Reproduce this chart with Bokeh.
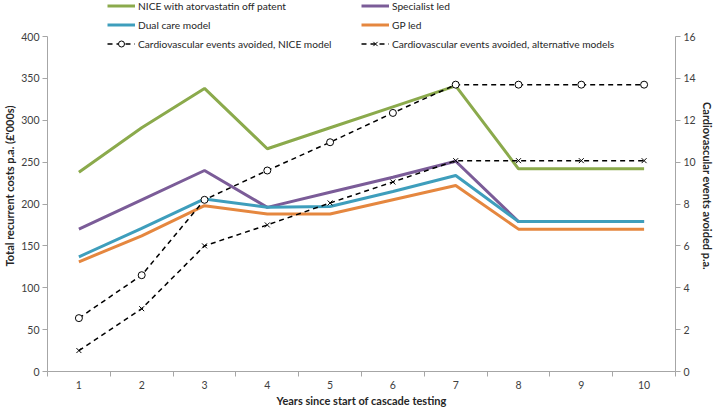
from bokeh.plotting import figure
from bokeh.models import (Range1d, LinearAxis, FixedTicker, Legend, LegendItem)
from bokeh.embed import file_html
from bokeh.resources import INLINE

# ---- data ----
years = [1, 2, 3, 4, 5, 6, 7, 8, 9, 10]
nice_costs = [238, 291, 338, 266, 291, 316, 341, 242, 242, 242]
specialist_costs = [170, 205, 240, 196, 214, 232, 251, 179, 179, 179]
dual_costs = [137, 171, 206, 196, 197, 215, 234, 179, 179, 179]
gp_costs = [131, 162, 198, 188, 188, 205, 222, 170, 170, 170]
events_nice = [2.55, 4.6, 8.2, 9.6, 10.95, 12.35, 13.7, 13.7, 13.7, 13.7]
events_alt = [1.0, 3.0, 6.0, 7.0, 8.05, 9.05, 10.07, 10.07, 10.07, 10.07]
left_ticks = [0, 50, 100, 150, 200, 250, 300, 350, 400]
right_ticks = [0, 2, 4, 6, 8, 10, 12, 14, 16]
LEFT_MAX = 400
RIGHT_MAX = 16

FONT = "Lato"
GREEN = "#8BAA4C"
PURPLE = "#7B5C98"
BLUE = "#3E9EBC"
ORANGE = "#E5873F"
AXIS = "#A6A6A6"
TXT = "#404040"

FRAME_W = 628
PLOT_H = 335          # height of the 0..400 part of the frame
HEAD = 36             # extra room above it (legend lives here)
FRAME_H = PLOT_H + HEAD
SCALE = FRAME_H / PLOT_H

p = figure(frame_width=FRAME_W, frame_height=FRAME_H, output_backend="svg",
           toolbar_location=None, x_range=Range1d(0.5, 10.5),
           y_range=Range1d(0, LEFT_MAX * SCALE), min_border_left=36,
           min_border_right=40, min_border_top=0, min_border_bottom=30)
p.extra_y_ranges = {"ev": Range1d(0, RIGHT_MAX * SCALE)}
p.outline_line_color = None
p.grid.grid_line_color = None
p.background_fill_color = "white"
p.border_fill_color = "white"

# x axis
xa = p.xaxis[0]
xa.ticker = FixedTicker(ticks=years, minor_ticks=[y - 0.5 for y in years] + [10.5])
xa.axis_label = "Years since start of cascade testing"
xa.minor_tick_out = 5
xa.minor_tick_in = 0

# left axis
ya = p.yaxis[0]
ya.ticker = FixedTicker(ticks=left_ticks)
ya.bounds = (0, LEFT_MAX)
ya.axis_label = "Total recurrent costs p.a. (£'000s)"
ya.major_tick_out = 5
ya.major_tick_in = 0

# right axis
ra = LinearAxis(y_range_name="ev", ticker=FixedTicker(ticks=right_ticks),
                axis_label="Cardiovascular events avoided p.a.",
                bounds=(0, RIGHT_MAX))
ra.major_tick_out = 5
ra.major_tick_in = 0
p.add_layout(ra, "right")

for ax in [xa, ya, ra]:
    ax.axis_line_color = AXIS
    ax.major_tick_line_color = AXIS if ax is not xa else None
    ax.minor_tick_line_color = None if ax is not xa else AXIS
    ax.major_label_text_font = FONT
    ax.major_label_text_font_size = "10.5px"
    ax.major_label_text_color = TXT
    ax.axis_label_text_font = FONT
    ax.axis_label_text_font_size = "11px"
    ax.axis_label_text_font_style = "bold"
    ax.axis_label_text_color = "#262626"
    ax.axis_label_standoff = 2
    ax.major_label_standoff = 3

# cost lines
r_nice = p.line(years, nice_costs, line_color=GREEN, line_width=3)
r_spec = p.line(years, specialist_costs, line_color=PURPLE, line_width=3)
r_dual = p.line(years, dual_costs, line_color=BLUE, line_width=3)
r_gp = p.line(years, gp_costs, line_color=ORANGE, line_width=3)

# events lines
r_en_l = p.line(years, events_nice, y_range_name="ev", line_color="black",
                line_width=1.5, line_dash="5 4")
r_en_m = p.scatter(years, events_nice, y_range_name="ev", marker="circle",
                   size=7, line_color="black", fill_color="white", line_width=1)
r_ea_l = p.line(years, events_alt, y_range_name="ev", line_color="black",
                line_width=1.5, line_dash="5 4")
r_ea_m = p.scatter(years, events_alt, y_range_name="ev", marker="x",
                   size=7, line_color="black", line_width=1)

ROW = 15
GAP = 4
LEG_H = 3 * ROW + 2 * GAP
VY = FRAME_H - LEG_H + 2


def make_legend(items, x):
    return Legend(items=items, location=(x, VY),
                  orientation="vertical", padding=0, margin=0, spacing=GAP,
                  glyph_width=28, glyph_height=ROW, label_height=ROW,
                  label_standoff=3, border_line_color=None,
                  background_fill_alpha=0, label_text_font=FONT,
                  label_text_font_size="10.2px", label_text_color="#262626")


leg1 = make_legend([
    LegendItem(label="NICE with atorvastatin off patent", renderers=[r_nice]),
    LegendItem(label="Dual care model", renderers=[r_dual]),
    LegendItem(label="Cardiovascular events avoided, NICE model", renderers=[r_en_l, r_en_m]),
], 60)
leg2 = make_legend([
    LegendItem(label="Specialist led", renderers=[r_spec]),
    LegendItem(label="GP led", renderers=[r_gp]),
    LegendItem(label="Cardiovascular events avoided, alternative models", renderers=[r_ea_l, r_ea_m]),
], 314)
p.add_layout(leg1, "center")
p.add_layout(leg2, "center")

open("out.html", "w").write(file_html(p, INLINE))
